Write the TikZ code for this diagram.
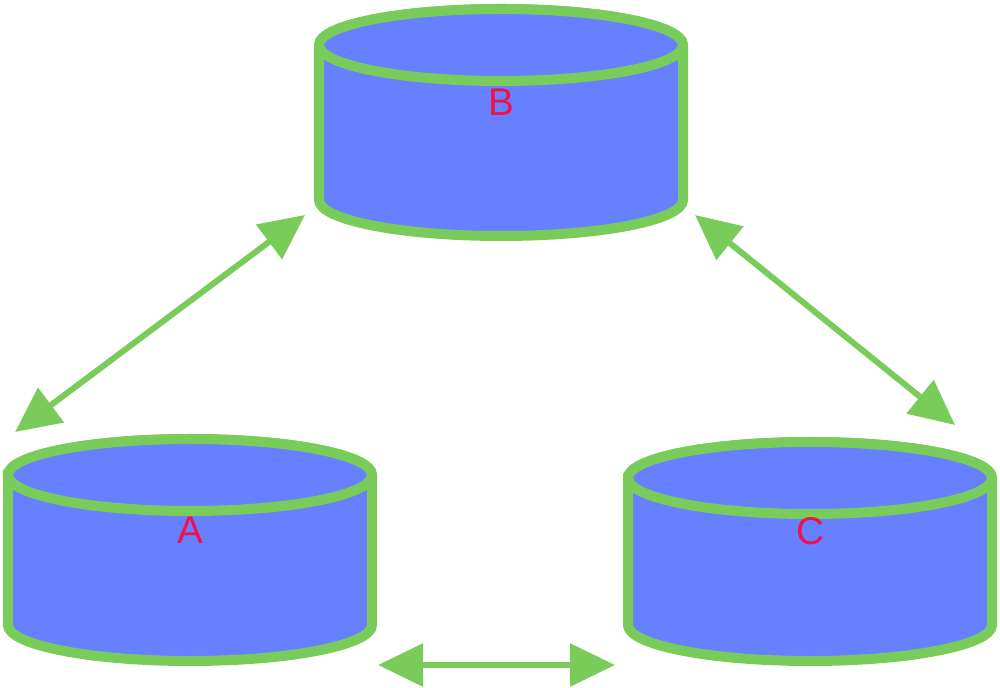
\documentclass[tikz,border=0pt]{standalone}
\usepackage{fontspec}
\setsansfont{Liberation Sans}
\usetikzlibrary{arrows.meta}
\definecolor{dbfill}{HTML}{6680FF}
\definecolor{dbline}{HTML}{7ACC5A}
\definecolor{dblabel}{HTML}{F0104A}

% cylinder: name, centre x, top y, bottom y, label
\newcommand{\dbcyl}[5]{%
  \filldraw[db] (#2-1.82,#3) -- (#2-1.82,#4)
    arc[start angle=180,end angle=360,x radius=1.82,y radius=0.36]
    -- (#2+1.82,#3)
    arc[start angle=0,end angle=180,x radius=1.82,y radius=0.36] -- cycle;
  \filldraw[db] (#2,#3) ellipse[x radius=1.82,y radius=0.36];
  \node[dbtext] (#1) at (#2,{(#3+#4)/2+0.2}) {#5};
}

\begin{document}
\begin{tikzpicture}[
  db/.style={fill=dbfill,draw=dbline,line width=0.1cm},
  dbtext/.style={text=dblabel,font=\sffamily\fontsize{11}{13}\selectfont},
  link/.style={draw=dbline,line width=0.06cm,{Triangle[length=0.45cm,width=0.42cm]}-{Triangle[length=0.45cm,width=0.42cm]}}]
\useasboundingbox (0,0) rectangle (10,-6.88);

\dbcyl{B}{5.01}{-0.45}{-2.0}{B}
\dbcyl{A}{1.9}{-4.75}{-6.25}{A}
\dbcyl{C}{8.1}{-4.78}{-6.25}{C}

\coordinate (ab1) at (0.15,-4.32);
\coordinate (ab2) at (3.05,-2.15);
\coordinate (bc1) at (6.95,-2.15);
\coordinate (bc2) at (9.55,-4.25);
\coordinate (ac1) at (3.78,-6.65);
\coordinate (ac2) at (6.15,-6.65);

\draw[link] (ab1) -- (ab2);
\draw[link] (bc1) -- (bc2);
\draw[link] (ac1) -- (ac2);
\end{tikzpicture}
\end{document}
